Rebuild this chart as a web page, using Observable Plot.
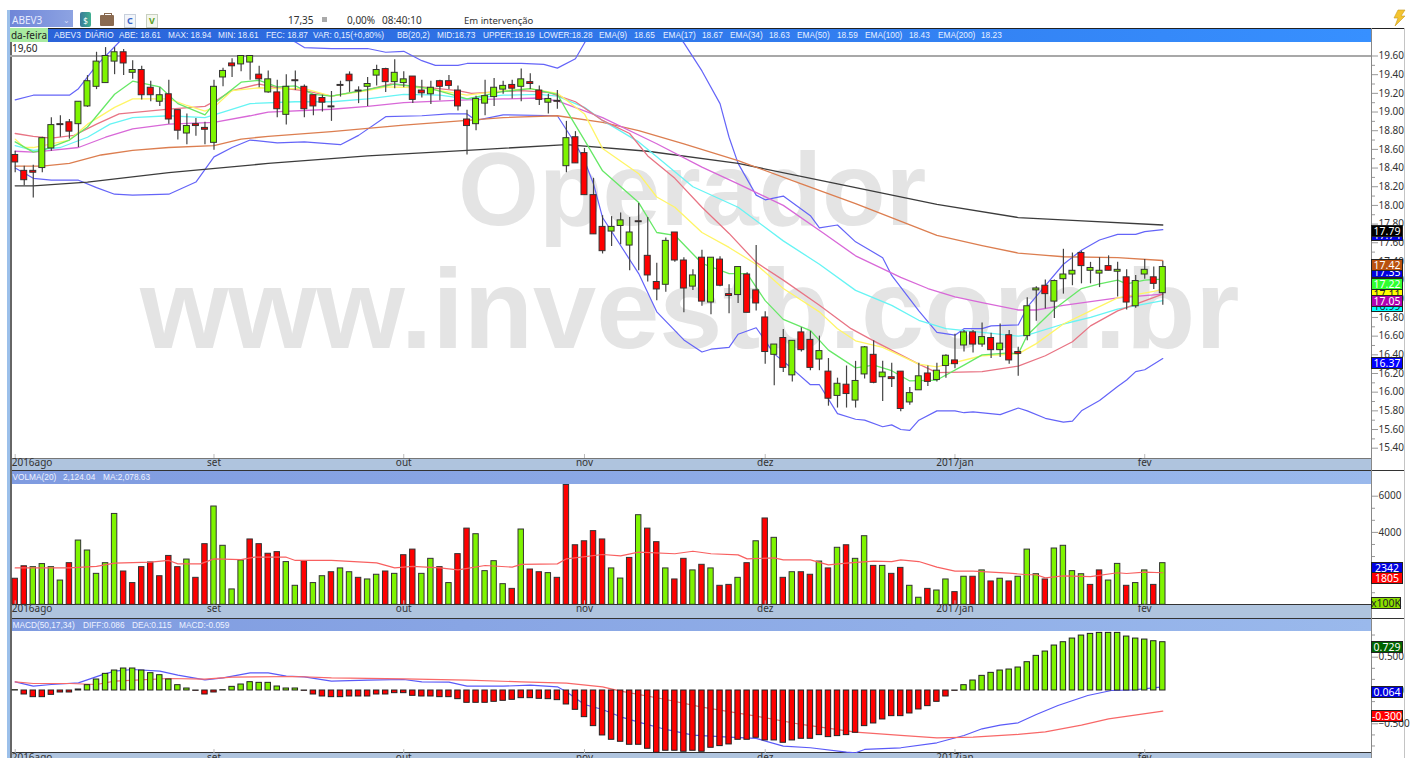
<!DOCTYPE html>
<html><head><meta charset="utf-8">
<script src="https://cdn.jsdelivr.net/npm/d3@7"></script>
<script src="https://cdn.jsdelivr.net/npm/@observablehq/plot@0.6"></script>
<style>
html,body{margin:0;padding:0;background:#fff;width:1411px;height:758px;overflow:hidden;font-family:"Noto Sans",sans-serif;font-size:10px;color:#333}
.a{position:absolute;white-space:nowrap}
.p{position:absolute;left:0}
.p svg{display:block;overflow:visible}
.badge{position:absolute;left:1371px;width:32px;height:12px;line-height:12px;text-align:center;font-size:10.5px;color:#fff;box-shadow:inset 0 0 0 1px #222}
</style></head><body>
<div id="root"></div>
<script>
// ---------- candles (price, by trading day) ----------
const open = [
18.54,18.37,18.37,18.40,18.61,18.87,18.89,18.87,19.06,19.27,
19.31,19.54,19.64,19.42,19.45,19.26,19.11,19.19,19.02,18.77,
18.87,18.83,18.67,19.37,19.52,19.51,19.53,19.40,19.21,19.21,
18.97,19.34,19.27,19.18,19.15,19.06,19.29,19.40,19.23,19.27,
19.39,19.46,19.32,19.31,19.38,19.23,19.19,19.33,19.33,19.23,
18.92,18.87,19.09,19.16,19.24,19.29,19.27,19.32,19.23,19.10,
19.12,18.42,18.73,18.56,18.11,17.77,17.72,17.78,17.57,17.83,
17.46,17.18,17.15,17.71,17.41,17.13,17.44,16.96,17.42,17.05,
17.04,17.26,17.09,16.80,16.40,16.58,16.18,16.64,16.56,16.35,
16.22,15.96,16.08,15.91,16.19,16.40,16.16,16.16,16.22,15.89,
16.02,16.20,16.13,16.28,16.34,16.50,16.64,16.51,16.58,16.45,
16.61,16.43,16.60,17.09,17.14,16.97,17.21,17.26,17.49,17.30,
17.27,17.35,17.29,17.23,16.92,17.26,17.23,17.06];
const close = [
18.46,18.27,18.35,18.72,18.86,18.86,18.79,19.11,19.33,19.54,
19.60,19.64,19.52,19.45,19.18,19.18,19.18,18.92,18.80,18.85,
18.85,18.81,19.27,19.44,19.49,19.60,19.60,19.35,19.35,19.03,
19.27,19.33,19.03,19.06,19.10,19.05,19.28,19.33,19.22,19.30,
19.45,19.32,19.42,19.35,19.13,19.20,19.26,19.27,19.28,19.06,
18.85,19.14,19.17,19.26,19.28,19.25,19.35,19.30,19.13,19.14,
19.11,18.72,18.45,18.11,17.69,17.51,17.77,17.84,17.71,17.82,
17.25,17.10,17.62,17.41,17.11,17.25,16.97,17.44,17.14,17.03,
17.34,16.85,16.95,16.43,16.51,16.26,16.55,16.45,16.26,16.44,
15.93,16.09,15.98,16.12,16.48,16.10,16.21,16.14,15.82,15.99,
16.17,16.11,16.23,16.39,16.30,16.64,16.51,16.59,16.45,16.52,
16.34,16.41,16.92,17.11,17.05,17.19,17.26,17.30,17.35,17.33,
17.30,17.30,17.31,16.96,17.19,17.31,17.16,17.34];
const high = [
18.58,18.42,18.43,18.73,18.94,18.96,18.92,19.11,19.39,19.64,
19.69,19.69,19.67,19.55,19.49,19.33,19.26,19.34,19.02,18.98,
18.93,18.89,19.34,19.47,19.57,19.60,19.60,19.49,19.44,19.34,
19.40,19.44,19.29,19.18,19.18,19.22,19.33,19.43,19.27,19.37,
19.50,19.47,19.56,19.43,19.38,19.34,19.33,19.34,19.39,19.28,
19.02,19.17,19.34,19.36,19.33,19.34,19.46,19.41,19.28,19.19,
19.23,18.90,18.79,18.61,18.29,17.89,17.88,17.92,17.87,18.02,
17.87,17.38,17.65,17.71,17.44,17.31,17.52,17.44,17.45,17.15,
17.34,17.28,17.57,16.86,16.51,16.67,16.55,16.69,16.65,16.60,
16.36,16.15,16.28,16.33,16.49,16.55,16.33,16.31,16.22,16.05,
16.31,16.28,16.31,16.40,16.62,16.66,16.66,16.74,16.63,16.73,
16.66,16.48,17.01,17.13,17.20,17.20,17.53,17.49,17.51,17.39,
17.44,17.46,17.39,17.31,17.25,17.42,17.34,17.40];
const low = [
18.35,18.21,18.08,18.35,18.58,18.73,18.71,18.62,19.05,19.24,
19.31,19.40,19.39,19.35,19.13,19.11,19.06,18.87,18.70,18.65,
18.74,18.65,18.59,19.27,19.37,19.43,19.34,19.26,19.20,18.94,
18.86,19.23,18.94,18.96,19.00,18.90,19.16,19.21,19.09,19.06,
19.28,19.21,19.25,19.26,19.09,19.15,19.08,19.12,19.24,19.01,
18.54,18.80,18.96,19.06,19.19,19.14,19.11,19.24,19.07,18.98,
19.03,18.35,18.45,18.11,17.69,17.48,17.56,17.58,17.30,17.30,
17.18,16.98,17.07,17.39,16.85,17.09,16.92,16.83,17.13,16.84,
16.95,16.85,16.87,16.30,16.07,16.21,16.11,16.43,16.23,16.23,
15.85,15.83,15.83,15.83,16.14,16.09,15.90,16.05,15.79,15.86,
16.02,16.06,16.11,16.15,16.25,16.43,16.42,16.48,16.36,16.37,
16.30,16.17,16.55,16.76,16.89,16.79,17.05,17.14,17.16,17.16,
17.12,17.30,17.02,16.88,16.90,17.21,17.10,16.93];

// ---------- moving averages and Bollinger bands: [day, value] ----------
const emaLime = [[0,18.68],[2,18.57],[3,18.59],[6,18.70],[8,18.84],[11,19.19],[13,19.33],[16,19.27],[18,19.09],[21,18.97],[22,19.09],[25,19.32],[27,19.34],[29,19.27],[31,19.28],[33,19.19],[35,19.17],[39,19.24],[42,19.30],[46,19.25],[50,19.14],[54,19.22],[57,19.25],[60,19.19],[61,19.02],[63,18.70],[65,18.37],[69,18.03],[71,17.71],[73,17.68],[75,17.48],[76,17.38],[79,17.27],[81,17.27],[83,16.98],[85,16.78],[88,16.66],[90,16.45],[93,16.26],[95,16.29],[97,16.23],[99,16.12],[102,16.13],[105,16.29],[107,16.40],[110,16.42],[111,16.41],[112,16.61],[115,16.89],[118,17.11],[120,17.16],[122,17.20],[123,17.16],[125,17.20],[127,17.21]];
const emaYellow = [[0,18.71],[1,18.62],[2,18.62],[4,18.66],[6,18.70],[8,18.87],[11,19.05],[13,19.14],[17,19.14],[19,19.07],[21,19.01],[22,19.05],[24,19.23],[27,19.26],[29,19.25],[32,19.25],[35,19.17],[39,19.23],[41,19.27],[45,19.26],[50,19.18],[54,19.23],[57,19.25],[60,19.20],[63,18.98],[65,18.61],[69,18.34],[71,18.09],[73,17.98],[76,17.71],[79,17.55],[82,17.37],[85,17.11],[89,16.86],[91,16.68],[93,16.55],[96,16.48],[100,16.30],[102,16.27],[107,16.39],[111,16.41],[113,16.52],[116,16.73],[119,16.87],[122,17.01],[126,17.08],[127,17.10]];
const emaSalmon = [[0,18.77],[2,18.74],[4,18.72],[6.5,18.75],[9,18.87],[11.5,18.98],[17,19.03],[21,19.06],[22.5,19.14],[24,19.23],[27,19.30],[29,19.26],[32,19.23],[35,19.17],[39,19.24],[41.5,19.30],[45,19.27],[49,19.23],[50.5,19.20],[56,19.23],[59,19.21],[62,19.11],[65,18.91],[68,18.77],[70,18.53],[73,18.29],[76,17.98],[79,17.70],[82,17.39],[85,17.20],[89,16.93],[92.5,16.68],[95,16.55],[100,16.30],[102,16.21],[107,16.22],[111,16.28],[114,16.39],[117,16.54],[119,16.71],[122,16.87],[127,17.05]];
const emaCyan = [[0,18.64],[2,18.59],[5,18.62],[8,18.73],[10.5,18.87],[13,18.94],[17,18.96],[21,18.94],[23,19.00],[26,19.09],[31,19.11],[35,19.11],[39,19.14],[43,19.19],[47,19.18],[50,19.14],[54,19.18],[58,19.19],[60,19.17],[63,19.05],[65,18.91],[69,18.68],[71,18.52],[75,18.20],[80,17.98],[85,17.62],[89,17.37],[93,17.09],[97,16.93],[100,16.77],[103,16.68],[107,16.64],[111,16.60],[112,16.61],[116,16.73],[119,16.80],[122,16.89],[127,16.98]];
const emaMagenta = [[0,18.58],[2,18.57],[4,18.59],[7,18.62],[10,18.73],[13,18.82],[17,18.87],[22,18.89],[26,18.96],[28,19.00],[35,19.03],[39,19.06],[43,19.10],[50,19.13],[54,19.14],[58,19.15],[60,19.12],[65,18.94],[71,18.66],[76,18.41],[80,18.23],[85,18.00],[89.5,17.70],[93,17.46],[98,17.23],[101,17.11],[104,17.02],[107,16.96],[111,16.88],[113,16.88],[116,16.93],[122,17.01],[127,17.05]];
const emaOrange = [[0,18.42],[3,18.42],[6,18.45],[9.5,18.54],[13,18.59],[17,18.62],[22,18.64],[25,18.71],[28,18.74],[35,18.79],[43,18.86],[50,18.91],[54,18.94],[60,18.96],[65,18.89],[69,18.80],[74,18.66],[80,18.48],[87,18.23],[93,18.02],[102,17.68],[107,17.57],[111,17.49],[116,17.45],[122,17.44],[127,17.41]];
const emaBlack = [[0,18.21],[2,18.21],[8,18.25],[17,18.35],[28,18.45],[39,18.53],[50,18.59],[61,18.65],[70,18.58],[80,18.45],[91,18.23],[102,18.01],[111,17.87],[117,17.84],[127,17.79]];
const bbUpper = [[0,19.13],[2,19.18],[6,19.18],[7,19.25],[9,19.50],[11.5,19.75],[13,19.85],[18,19.95],[22,19.76],[23,19.76],[27,19.90],[31,19.75],[32,19.69],[35,19.68],[39,19.68],[41,19.64],[43,19.65],[45,19.55],[46.5,19.50],[49,19.50],[50,19.52],[56,19.52],[58.5,19.51],[60,19.47],[62,19.57],[63,19.74],[64,19.90],[68,20.20],[71,20.10],[74,19.74],[76,19.44],[78,19.09],[79,18.73],[80,18.45],[82,18.11],[83,18.06],[85,18.10],[88,17.89],[89,17.76],[91,17.79],[93,17.61],[96,17.44],[97,17.25],[100,16.87],[102,16.64],[104,16.61],[105,16.68],[107,16.68],[108,16.71],[111,16.72],[112,16.91],[114,17.14],[116,17.37],[118,17.52],[120,17.63],[122,17.69],[124,17.69],[125,17.72],[127,17.74]];
const bbLower = [[0,18.40],[2,18.29],[4,18.27],[7,18.27],[9,18.19],[11,18.12],[13,18.11],[17,18.12],[20,18.25],[22,18.52],[24,18.62],[26,18.70],[29,18.67],[32,18.68],[36,18.65],[38,18.75],[41,18.95],[45,18.96],[48,18.98],[50,18.98],[51,18.91],[54,18.97],[60,18.96],[62,18.66],[63,18.48],[64,18.23],[65,17.87],[69,17.27],[71,16.86],[74,16.56],[76,16.43],[77,16.46],[79,16.48],[80,16.62],[82,16.69],[84,16.41],[86,16.25],[88,16.08],[89,16.08],[91,15.77],[93,15.71],[94,15.70],[96,15.63],[97,15.65],[98,15.60],[99,15.59],[100,15.70],[102,15.80],[104,15.80],[105,15.78],[106,15.79],[109,15.76],[111,15.83],[112,15.80],[114,15.72],[116,15.68],[117,15.69],[118,15.80],[120,15.91],[122,16.06],[123,16.13],[124,16.22],[125,16.24],[127,16.36]];

// ---------- volume ----------
const volume = [
1440,2130,2080,2250,2080,1340,2300,3550,3000,1710,
2300,5020,1840,1200,2080,2340,1580,2700,2080,2500,
1490,3350,5430,3260,850,2450,3610,3350,2820,2910,
2360,1050,2410,1200,1580,1800,2010,1800,1490,1400,
1660,1840,1710,2740,3050,1710,2540,2080,1200,2800,
4210,3900,1860,2410,1140,880,4160,1950,1800,1750,
1490,6620,3290,3510,4070,3610,2010,1450,2590,4950,
4210,3460,2010,1400,2540,1900,2210,2010,1050,1100,
1490,2300,3510,4770,3700,1490,1800,1800,1660,2390,
2010,3150,3290,2540,3790,2150,2150,1710,2040,1050,
390,880,790,1400,700,1550,1550,1900,1290,1440,
1290,1550,3050,1690,1400,3110,3260,1860,1690,1100,
1900,1340,2260,1050,1200,1900,1100,2300];
const volumeUp = [
0,0,1,1,1,1,0,1,1,1,
1,1,0,0,0,0,0,0,0,1,
0,0,1,1,1,1,0,0,0,0,
1,1,0,1,1,0,1,1,0,1,
1,0,1,0,0,1,1,0,1,0,
0,1,1,1,1,0,1,0,0,1,
0,0,0,0,0,0,1,1,0,1,
0,0,1,0,0,1,0,1,0,0,
1,0,1,0,1,0,1,0,0,1,
0,1,0,1,1,0,1,0,0,1,
1,0,1,1,0,1,0,1,0,1,
0,1,1,1,0,1,1,1,1,0,
0,1,1,0,1,1,0,1];
const volumeMA = [[0,2040],[6,2040],[9,2120],[11,2300],[15,2360],[17,2450],[18,2260],[20.5,2260],[22,2540],[25,2500],[26.5,2630],[30,2630],[31,2450],[35,2450],[40,2320],[42,2040],[44,2120],[47,2040],[49,1930],[52,2170],[55,2080],[56,2230],[60,2260],[61,2540],[65,2780],[67,2700],[69,2910],[73,2820],[75,2960],[77,2820],[80,2760],[81,2540],[84,2590],[85,2480],[88,2480],[90,2210],[92,2300],[95,2410],[97,2390],[98,2480],[100,2390],[102,2080],[104,1860],[106,1860],[110,1750],[112,1660],[113,1660],[114,1490],[116,1600],[119,1560],[122,1770],[123,1730],[125,1800],[127,1770]];

// ---------- MACD ----------
const macdHist = [
0.005,-0.06,-0.10,-0.10,-0.065,-0.03,-0.03,0.015,0.08,0.165,
0.25,0.30,0.33,0.33,0.30,0.26,0.23,0.165,0.08,0.03,
-0.005,-0.06,-0.03,0.005,0.055,0.09,0.125,0.115,0.115,0.06,
0.03,0.03,-0.005,-0.06,-0.09,-0.10,-0.10,-0.09,-0.09,-0.09,
-0.06,-0.06,-0.04,-0.04,-0.08,-0.09,-0.09,-0.10,-0.10,-0.13,
-0.185,-0.185,-0.185,-0.17,-0.155,-0.14,-0.115,-0.115,-0.125,-0.13,
-0.145,-0.21,-0.29,-0.40,-0.535,-0.675,-0.74,-0.77,-0.815,-0.815,
-0.875,-0.935,-0.905,-0.905,-0.92,-0.905,-0.92,-0.86,-0.835,-0.81,
-0.74,-0.74,-0.71,-0.75,-0.75,-0.785,-0.75,-0.725,-0.725,-0.67,
-0.70,-0.685,-0.67,-0.635,-0.535,-0.495,-0.435,-0.385,-0.385,-0.345,
-0.285,-0.235,-0.17,-0.09,-0.005,0.08,0.15,0.22,0.265,0.30,
0.315,0.345,0.425,0.52,0.585,0.675,0.725,0.78,0.825,0.85,
0.865,0.865,0.865,0.81,0.78,0.765,0.74,0.725];
const macdDiff = [[0,0.13],[2,0.065],[4,0.09],[7,0.115],[9.5,0.23],[11,0.29],[13,0.315],[16,0.29],[18,0.23],[21,0.16],[23,0.19],[26,0.265],[28,0.265],[30,0.215],[32,0.205],[35,0.14],[39,0.155],[43,0.165],[45,0.13],[48,0.125],[50,0.065],[54,0.065],[57,0.08],[60,0.055],[61,-0.02],[63,-0.21],[65,-0.285],[67,-0.395],[69,-0.475],[72,-0.585],[75,-0.67],[79,-0.70],[82,-0.72],[85,-0.835],[88,-0.86],[92,-0.925],[93,-0.935],[94,-0.885],[98,-0.86],[102,-0.785],[105,-0.675],[107,-0.575],[109,-0.52],[111,-0.485],[113,-0.36],[115.4,-0.225],[118.7,-0.075],[121.3,0],[123.8,0.01],[127,0.055]];
const macdDea = [[0,0.13],[2,0.105],[6,0.105],[9,0.09],[11,0.14],[17,0.18],[21,0.17],[24,0.20],[31,0.21],[35,0.19],[43,0.175],[50,0.155],[56,0.13],[61,0.11],[65,0.055],[67,-0.01],[72,-0.135],[76,-0.25],[82,-0.385],[87,-0.51],[93,-0.625],[98,-0.675],[102,-0.71],[106,-0.70],[111,-0.66],[114,-0.62],[118,-0.52],[121,-0.425],[127,-0.31]];

// ---------- labels ----------
const monthDays = [0,22,43,63,83,104,125];
const monthNames = ["2016ago","set","out","nov","dez","2017jan","fev"];
const priceTicks = [15.4,15.6,15.8,16,16.2,16.4,16.6,16.8,17,17.2,17.4,17.6,17.8,18,18.2,18.4,18.6,18.8,19,19.2,19.4,19.6];
const priceMinor = [15.5,15.7,15.9,16.1,16.3,16.5,16.7,16.9,17.1,17.3,17.5,17.7,17.9,18.1,18.3,18.5,18.7,18.9,19.1,19.3,19.5];
const volTicks = [2000,4000,6000];
const volMinor = [667,1333,2667,3333,4667,5333];
const macdTicks = [-0.5,0,0.5];
const macdMinor = [-0.833,-0.667,-0.333,-0.167,0.167,0.333,0.667,0.833];

// ---------- theme ----------
const FONT = '"Noto Sans",sans-serif';
const HEAD = "font-family:'Liberation Sans',sans-serif;font-size:8.3px;";
const GREEN = "#7ef400", RED = "#ff0000";
const LEFT = 10, AXIS = 1371, W = 1411;
const xScale = {type:"linear",domain:[0,127],range:[14.7,1162.3]};
const root = document.getElementById("root");
const days = d3.range(open.length);

function el(css,text,cls){
  const d=document.createElement("div");
  d.className=cls||"a"; d.style.cssText=css;
  if(text!=null) d.textContent=text;
  root.appendChild(d); return d;
}
// ---------- chrome under the charts ----------
el(`left:7px;top:10px;width:3px;height:748px;background:#9cc0ea`);
el(`left:${LEFT}px;top:28px;width:${AXIS-LEFT}px;height:14px;background:linear-gradient(90deg,#2a62d8,#3790ff)`);
el(`left:${LEFT}px;top:458px;width:${AXIS-LEFT}px;height:12px;background:#afc4de;border-top:1px solid #777;box-sizing:border-box`);
el(`left:${LEFT}px;top:471px;width:${AXIS-LEFT}px;height:13px;background:linear-gradient(90deg,#7f9be0,#9ab9ec)`);
el(`left:${LEFT}px;top:604px;width:${AXIS-LEFT}px;height:14px;background:#afc4de;border-top:1px solid #333;box-sizing:border-box`);
el(`left:${LEFT}px;top:619px;width:${AXIS-LEFT}px;height:12px;background:linear-gradient(90deg,#7f9be0,#9ab9ec)`);
el(`left:${LEFT}px;top:752px;width:${AXIS-LEFT}px;height:6px;background:#afc4de;border-top:1px solid #333;box-sizing:border-box`);
el(`left:${LEFT}px;top:27.5px;width:1394px;height:1px;background:#222`);
el(`left:${LEFT}px;top:470px;width:1394px;height:1px;background:#333`);
el(`left:${LEFT}px;top:618px;width:1394px;height:1px;background:#333`);
el(`left:10px;top:28px;width:1.5px;height:730px;background:#666`);
el(`left:1370.5px;top:28px;width:1.5px;height:730px;background:#888`);
el(`left:1404px;top:28px;width:1px;height:730px;background:#c4c4c4`);
// watermark
const WM="font-family:'Liberation Sans',Arial,sans-serif;font-weight:700;color:#e4e4e4;line-height:1;";
el(WM+"left:458px;top:137px;font-size:104px","Operador");
el(WM+"left:140px;top:252px;font-size:113.5px","www.investb.com.br");

// ---------- toolbar ----------
el(`left:10px;top:10px;width:63px;height:17px;background:linear-gradient(90deg,#6f86d8,#8da3e2)`);
el(`left:12px;top:13px;color:#e8ecff;font-size:10px`,"ABEV3");
el(`left:63px;top:14px;color:#d8def8;font-size:8px`,"⌄");
el(`left:80px;top:12px;width:11px;height:15px;background:linear-gradient(90deg,#3a7a9a,#40b090);border-radius:2px;color:#fff;font-size:8px;text-align:center;line-height:18px`,"$");
el(`left:100px;top:15px;width:14px;height:11px;background:#8a6a50;border-radius:1px`);
el(`left:104px;top:13px;width:6px;height:2px;border:1px solid #8a6a50;border-bottom:none`);
el(`left:124px;top:14px;width:10px;height:12px;background:#f2f5fa;border:1px solid #c8d0dc;color:#3a66c8;font-weight:700;font-size:9px;text-align:center;line-height:12px`,"C");
el(`left:146px;top:14px;width:10px;height:12px;background:#f4f6ee;border:1px solid #c8d0c0;color:#5aa020;font-weight:700;font-size:9px;text-align:center;line-height:12px`,"V");
el(`left:288px;top:13px;color:#333`,"17,35");
el(`left:322px;top:17px;width:5px;height:5px;background:#aaa`);
el(`left:347px;top:13px;color:#333`,"0,00%");
el(`left:382px;top:13px;color:#333`,"08:40:10");
el(`left:464px;top:13.5px;color:#333;font-size:9.5px`,"Em intervenção");
const bolt=document.createElementNS("http://www.w3.org/2000/svg","svg");
bolt.setAttribute("width","16");bolt.setAttribute("height","18");
bolt.style.cssText="position:absolute;left:1391px;top:9px";
bolt.innerHTML='<polygon points="7,1 14,1 10,7 14,7 4,17 7,9 3,9" fill="#f4c430" stroke="#c89a20" stroke-width="0.6"/>';
root.appendChild(bolt);

// ---------- header texts ----------
el(`left:10px;top:28px;width:38px;height:14px;background:#a8eaa0;color:#222;text-align:center;line-height:14px`,"da-feira");
const headerItems=[["ABEV3",54],["DIÁRIO",85],["ABE: 18.61",119],["MAX: 18.94",168],["MIN: 18.61",218],["FEC: 18.87",266],["VAR: 0,15(+0,80%)",313],["BB(20,2)",397],["MID:18.73",437],["UPPER:19.19",483],["LOWER:18.28",539],["EMA(9)",599],["18.65",634],["EMA(17)",663],["18.67",702],["EMA(34)",730],["18.63",769],["EMA(50)",797],["18.59",837],["EMA(100)",865],["18.43",909],["EMA(200)",938],["18.23",981]];
for(const [t,x] of headerItems) el(HEAD+`left:${x}px;top:28px;line-height:14px;color:#e8f0ff`,t);
for(const [t,x] of [["VOLMA(20)",12.5],["2,124.04",63],["MA:2,078.63",103]]) el(HEAD+`left:${x}px;top:471px;line-height:13px;color:#eef2ff`,t);
for(const [t,x] of [["MACD(50,17,34)",12.5],["DIFF:0.086",83],["DEA:0.115",132],["MACD:-0.059",179]]) el(HEAD+`left:${x}px;top:619px;line-height:12px;color:#eef2ff`,t);

// ---------- shared marks ----------
const axisMarks=(ticks,minor,fmt)=>[
  Plot.axisY({anchor:"right",ticks:minor,tickSize:3,tickFormat:()=>"",label:null,stroke:"#999"}),
  Plot.axisY({anchor:"right",ticks,tickSize:6,tickPadding:1,tickFormat:fmt,label:null,stroke:"#999",fill:"#333"})
];
const monthAxis=()=>[
  Plot.axisX({anchor:"bottom",ticks:monthDays,tickSize:-4,tickPadding:4,stroke:"#bbb",fill:"#333",label:null,
    tickFormat:d=>d===0?"":monthNames[monthDays.indexOf(d)]}),
  Plot.text([0],{x:d=>d,text:()=>monthNames[0],frameAnchor:"bottom",textAnchor:"start",dx:-3.5,dy:0.5,lineAnchor:"top",fill:"#333"})
];
const baseOpts=(bottom,range,domain)=>({
  width:W,height:range.h+bottom,marginLeft:LEFT,marginRight:W-AXIS,marginTop:0,marginBottom:bottom,
  x:xScale,y:{domain,range:range.r},
  style:{background:"transparent",fontFamily:FONT,fontSize:"10px",color:"#333"}
});
const line=(data,stroke,w=1.2)=>Plot.line(data,{x:d=>d[0],y:d=>d[1],stroke,strokeWidth:w,clip:true});

// ---------- price panel ----------
const pricePlot=Plot.plot({...baseOpts(12,{h:416,r:[405.7,13.5]},[15.4,19.6]),marks:[
  Plot.ruleY([19.6],{stroke:"#a8a8a8",strokeWidth:2}),
  line(bbUpper,"#6464f8"),line(bbLower,"#6464f8"),
  line(emaBlack,"#3c3c3c",1.3),line(emaOrange,"#dc7e50",1.3),line(emaMagenta,"#d868d8",1.3),
  line(emaCyan,"#66f4f4",1.3),line(emaSalmon,"#e87484",1.3),line(emaYellow,"#fff566",1.3),line(emaLime,"#66e866",1.3),
  Plot.ruleX(days,{x:d=>d,y1:d=>low[d],y2:d=>high[d],stroke:"#444",strokeWidth:1.2,clip:true}),
  Plot.rect(days,{x1:d=>d-0.33,x2:d=>d+0.33,y1:d=>open[d],y2:d=>close[d],
    fill:d=>close[d]>open[d]?GREEN:RED,stroke:"#333",strokeWidth:1,clip:true}),
  ...axisMarks(priceTicks,priceMinor,d3.format(".2f")),
  ...monthAxis()
]});
const pWrap=el("top:42px","", "p"); pWrap.appendChild(pricePlot);
el(`left:12px;top:42px;line-height:13px;color:#222`,"19,60");

// ---------- volume panel ----------
const volPlot=Plot.plot({...baseOpts(13.7,{h:120.3,r:[120.3,11.7]},[0,6000]),marks:[
  Plot.rect(days,{x1:d=>d-0.3,x2:d=>d+0.3,y1:0,y2:d=>volume[d],
    fill:d=>volumeUp[d]?GREEN:RED,stroke:"#333",strokeWidth:1,clip:true}),
  line(volumeMA,"#f86060"),
  ...axisMarks(volTicks,volMinor,d3.format("d")),
  ...monthAxis()
]});
const vWrap=el("top:484px","", "p"); vWrap.appendChild(volPlot);

// ---------- MACD panel ----------
const macdPlot=Plot.plot({...baseOpts(12,{h:122,r:[125.6,-7.6]},[-1,1]),marks:[
  line(macdDiff,"#5a5af8"),line(macdDea,"#f86868"),
  Plot.rect(days,{x1:d=>d-0.3,x2:d=>d+0.3,y1:0,y2:d=>macdHist[d],
    fill:d=>macdHist[d]>=0?GREEN:RED,stroke:"#222",strokeWidth:1,clip:true}),
  ...axisMarks(macdTicks,macdMinor,d3.format(".3f")),
  ...monthAxis()
]});
const mWrap=el("top:631px","", "p"); mWrap.appendChild(macdPlot);

// ---------- value badges on the right axis ----------
const badge=(plot,top,v,text,bg,fg="#fff",adj=0)=>{
  const y=top+plot.scale("y").apply(v)+adj;
  el(`top:${y}px;background:${bg};color:${fg}`,text,"badge");
};
badge(pricePlot,42,17.74,"17.74","#0000e0");
badge(pricePlot,42,17.35,"17.35","#0000e0");
badge(pricePlot,42,17.11,"17.11","#ffff00","#222");
badge(pricePlot,42,16.98,"16.99","#00ffff","#223");
badge(pricePlot,42,17.79,"17.79","#000");
badge(pricePlot,42,17.42,"17.42","#b9520f");
badge(pricePlot,42,17.22,"17.22","#30ff30");
badge(pricePlot,42,17.05,"17.05","#b000b0","#fff",1.5);
badge(pricePlot,42,16.37,"16.37","#0000ff");
badge(volPlot,484,2342,"2342","#0000e0");
badge(volPlot,484,1805,"1805","#ff0000");
el(`top:597px;width:30px;background:#8ce000;color:#222`,"x100K","badge");
badge(macdPlot,631,0.729,"0.729","#006400");
badge(macdPlot,631,0.064,"0.064","#0000e0");
badge(macdPlot,631,-0.30,"-0.300","#ff0000");
</script>
</body></html>
